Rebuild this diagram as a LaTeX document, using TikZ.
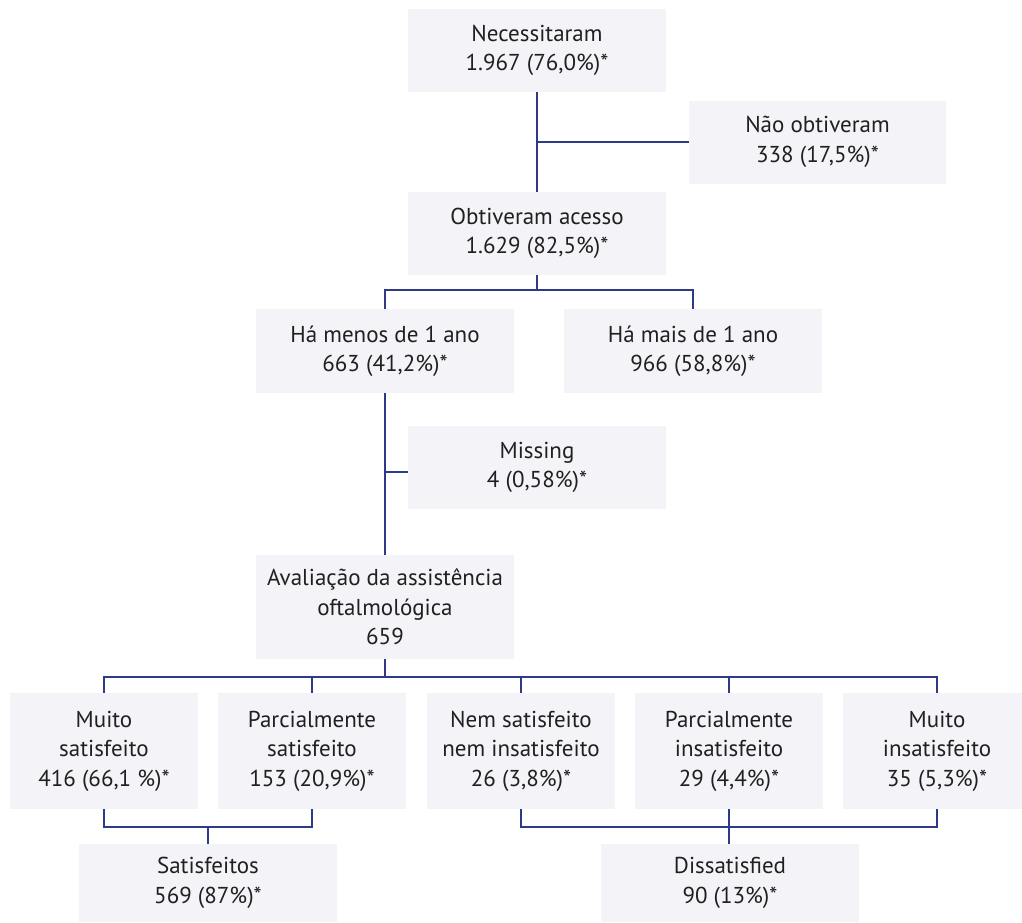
\documentclass[tikz,border=0pt]{standalone}
\usepackage{fontspec}
\setmainfont{PT Sans}
\definecolor{boxfill}{HTML}{F4F4F8}
\definecolor{lineblue}{HTML}{2E3A87}
\definecolor{txt}{HTML}{231F20}
\begin{document}
\begin{tikzpicture}[x=1pt,y=-1pt,
  box/.style={fill=boxfill,draw=none,inner sep=0pt,text=txt,align=center,
    font=\fontsize{23}{29.5}\selectfont},
  wbox/.style={box,minimum width=258pt,minimum height=83pt},
  sbox/.style={box,minimum width=188pt,minimum height=116pt},
  conn/.style={draw=lineblue,line width=1.3pt}]
\useasboundingbox (0,0) rectangle (1022,922);
\clip (0,0) rectangle (1022,922);
\node[wbox] (n1) at (537,50.5) {Necessitaram\\1.967 (76,0\%)*};
\node[wbox,minimum width=257pt] (n2) at (817.5,142) {Não obtiveram\\338 (17,5\%)*};
\node[wbox] (n3) at (537,233.5) {Obtiveram acesso\\1.629 (82,5\%)*};
\node[wbox,minimum height=84pt] (n4) at (385,351) {Há menos de 1 ano\\663 (41,2\%)*};
\node[wbox,minimum height=84pt] (n5) at (693,351) {Há mais de 1 ano\\966 (58,8\%)*};
\node[wbox] (n6) at (537,467.5) {Missing\\4 (0,58\%)*};
\node[wbox,minimum height=104pt] (n7) at (385,607) {Avaliação da assistência\\oftalmológica\\659};
\node[sbox] (b1) at (104,751) {Muito\\satisfeito\\416 (66,1 \%)*};
\node[sbox] (b2) at (312,751) {Parcialmente\\satisfeito\\153 (20,9\%)*};
\node[sbox] (b3) at (521,751) {Nem satisfeito\\nem insatisfeito\\26 (3,8\%)*};
\node[sbox] (b4) at (729,751) {Parcialmente\\insatisfeito\\29 (4,4\%)*};
\node[sbox] (b5) at (937,751) {Muito\\insatisfeito\\35 (5,3\%)*};
\node[wbox,minimum height=78pt] (s1) at (208,883) {Satisfeitos\\569 (87\%)*};
\node[wbox,minimum height=78pt] (s2) at (730,883) {Dissatisfied\\90 (13\%)*};
% connectors
\draw[conn] (n1.south) -- (n3.north);
\coordinate (j1) at (537,142);
\draw[conn] (j1) -- (n2.west);
\coordinate (j2) at (537,290);
\draw[conn] (n3.south) -- (j2);
\draw[conn] (n4.north) |- (j2) -| (n5.north);
\draw[conn] (n4.south) -- (n7.north);
\coordinate (j3) at (385,472);
\draw[conn] (j3) -- (j3 -| n6.west);
\coordinate (j4) at (385,677);
\draw[conn] (n7.south) -- (j4);
\draw[conn] (b1.north) |- (j4) -| (b5.north);
\draw[conn] (b2.north) -- (b2.north |- j4);
\draw[conn] (b3.north) -- (b3.north |- j4);
\draw[conn] (b4.north) -- (b4.north |- j4);
\coordinate (j5) at (208,827);
\draw[conn] (b1.south) |- (j5) -| (b2.south);
\draw[conn] (j5) -- (s1.north);
\coordinate (j6) at (729,827);
\draw[conn] (b3.south) |- (j6) -| (b5.south);
\draw[conn] (b4.south) -- (j6) -- (s2.north -| j6);
\end{tikzpicture}
\end{document}
